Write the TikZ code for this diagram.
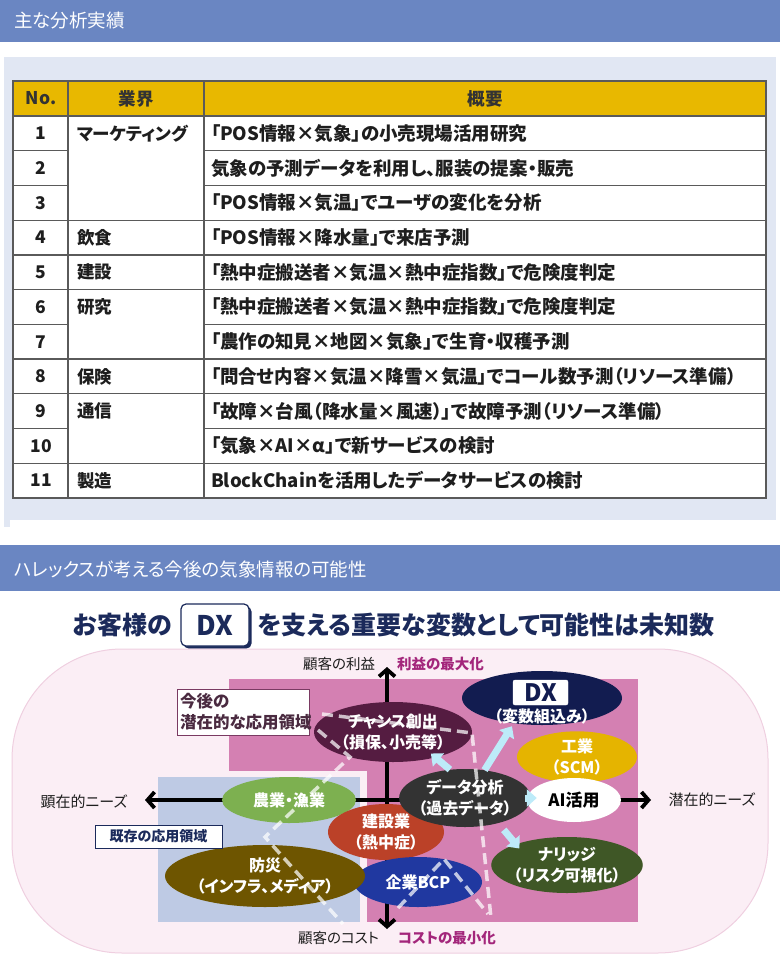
\documentclass[tikz,border=0pt]{standalone}
\usepackage{fontspec}
\setmainfont{Noto Sans CJK JP}[RawFeature=+palt]
\usetikzlibrary{shapes.geometric,arrows.meta,shadows}
\definecolor{hdr}{HTML}{6A86C2}
\definecolor{panel}{HTML}{E1E7F3}
\definecolor{gold}{HTML}{E8B800}
\definecolor{tline}{HTML}{5A5A5A}
\definecolor{ttext}{HTML}{1E1E1E}
\definecolor{navy}{HTML}{1B2A5B}
\definecolor{bgpink}{HTML}{FBEEF5}
\definecolor{bdpink}{HTML}{EFCFE0}
\definecolor{midpink}{HTML}{D480B2}
\definecolor{lblue}{HTML}{BECAE4}
\definecolor{magtxt}{HTML}{A3267B}
\definecolor{cplum}{HTML}{551C41}
\definecolor{cnavy}{HTML}{121C50}
\definecolor{cgold}{HTML}{E5B400}
\definecolor{cgray}{HTML}{333333}
\definecolor{cgreen}{HTML}{3F5726}
\definecolor{cblue}{HTML}{2038A0}
\definecolor{cred}{HTML}{BB4128}
\definecolor{clgreen}{HTML}{7DB050}
\definecolor{cbrown}{HTML}{6E5500}
\definecolor{cyanarr}{HTML}{BDEBF9}
\definecolor{plumbd}{HTML}{7A3A62}
\definecolor{plumtxt}{HTML}{4A2A40}
\newcommand{\fsz}[2]{\fontsize{#1}{#2}\selectfont}
\tikzset{
  txt/.style={inner sep=0pt, outer sep=0pt},
  hdrtxt/.style={txt, anchor=west, text=white, font=\fsz{18.5}{22}},
  num/.style={txt, text=ttext, font=\bfseries\fsz{17.5}{20}},
  indtxt/.style={txt, anchor=west, text=ttext, font=\bfseries\fsz{17.5}{20}},
  sumtxt/.style={txt, anchor=west, text=ttext, font=\bfseries\fsz{18.5}{22}},
  tl/.style={draw=tline, line width=1.2pt},
  ell/.style={ellipse, inner sep=0pt, text=white, font=\bfseries\fsz{16}{21}, align=center},
  axislbl/.style={txt, text=ttext, font=\fsz{14.5}{18}},
  maglbl/.style={txt, text=magtxt, font=\bfseries\fsz{14.5}{18}},
  dline/.style={draw=white, draw opacity=0.72, line width=3.5pt, dash pattern=on 11pt off 6pt},
  carr/.style={draw=cyanarr, line width=7pt, -{Triangle[length=10pt,width=17pt]}},
  axarr/.style={draw=black, line width=3.8pt, {Straight Barb[length=7pt,width=16pt]}-{Straight Barb[length=7pt,width=16pt]}}
}
\begin{document}
\begin{tikzpicture}[x=1pt,y=-1pt]
\useasboundingbox (0,0) rectangle (780,957);
% ---------- section 1 ----------
\fill[hdr] (0,0) rectangle (780,42);
\node[hdrtxt] (h1) at (14,21) {主な分析実績};
\fill[panel] (4,57) rectangle (776,520);
\fill[panel] (4,520) rectangle (10,527);
% table
\fill[white] (13,116) rectangle (766,498);
\fill[gold] (13,81) rectangle (766,116);
\draw[tl] (13,116) -- (766,116);
\draw[tl] (68,81) -- (68,498);
\draw[tl] (204,81) -- (204,498);
\foreach \i in {1,...,10}{
  \draw[tl] (13,{116+\i*34.727}) -- (68,{116+\i*34.727});
  \draw[tl] (204,{116+\i*34.727}) -- (766,{116+\i*34.727});
}
\foreach \i in {3,4,5,7,8,10}{
  \draw[tl] (68,{116+\i*34.727}) -- (204,{116+\i*34.727});
}
\draw[draw=tline, line width=1.6pt] (13,81) rectangle (766,498);
\node[num, text=cgray] (hno) at (41,98.5) {No.};
\node[num, text=cgray] (hind) at (136,98.5) {業界};
\node[num, text=cgray] (hsum) at (485,98.5) {概要};
\foreach \i/\t in {
  1/{「POS情報×気象」の小売現場活用研究},
  2/{気象の予測データを利用し、服装の提案・販売},
  3/{「POS情報×気温」でユーザの変化を分析},
  4/{「POS情報×降水量」で来店予測},
  5/{「熱中症搬送者×気温×熱中症指数」で危険度判定},
  6/{「熱中症搬送者×気温×熱中症指数」で危険度判定},
  7/{「農作の知見×地図×気象」で生育・収穫予測},
  8/{「問合せ内容×気温×降雪×気温」でコール数予測（リソース準備）},
  9/{「故障×台風（降水量×風速）」で故障予測（リソース準備）},
  10/{「気象×AI×α」で新サービスの検討},
  11/{BlockChainを活用したデータサービスの検討}}{
  \node[num] (n\i) at (41,{116+(\i-0.5)*34.727}) {\i};
  \node[sumtxt] (s\i) at (211,{116+(\i-0.5)*34.727}) {\t};
}
\foreach \i/\t in {1/マーケティング,4/飲食,5/建設,6/研究,8/保険,9/通信,11/製造}{
  \node[indtxt] (ind\i) at (77,{116+(\i-0.5)*34.727}) {\t};
}
% ---------- section 2 ----------
\fill[hdr] (0,545) rectangle (780,591);
\node[hdrtxt] (h2) at (14,569) {ハレックスが考える今後の気象情報の可能性};
\node[txt, anchor=east, text=navy, font=\bfseries\fsz{25}{28}] (t1) at (172,625) {お客様の};
\node[draw=navy, line width=1.2pt, fill=white, rounded corners=5pt, minimum width=68pt, minimum height=42pt, inner sep=0pt, text=navy, font=\bfseries\fsz{27}{30},
  drop shadow={shadow xshift=2.5pt, shadow yshift=-2.5pt, fill=navy, opacity=1}] (tdx) at (215,625) {DX};
\node[txt, anchor=west, text=navy, font=\bfseries\fsz{25}{28}] (t2) at (258,625) {を支える重要な変数として可能性は未知数};
% big rounded area
\filldraw[fill=bgpink, draw=bdpink, line width=1pt, rounded corners=110pt] (12,649) rectangle (768,953);
\fill[midpink] (229,679) rectangle (638,922);
\fill[bgpink] (229,771) rectangle (367,922);
\fill[lblue] (158,777) rectangle (360,922);
% axes
\coordinate (axT) at (387,667);
\coordinate (axB) at (387,929);
\coordinate (axL) at (145,800);
\coordinate (axR) at (651,800);
\draw[axarr] (axB) -- (axT);
\draw[axarr] (axL) -- (axR);
\node[axislbl, anchor=east] (lbtop) at (375,664) {顧客の利益};
\node[maglbl, anchor=west] (mgtop) at (397,664) {利益の最大化};
\node[axislbl, anchor=east] (lbbot) at (379,938) {顧客のコスト};
\node[maglbl, anchor=west] (mgbot) at (398,938) {コストの最小化};
\node[axislbl, font=\fsz{15}{18}] (lbleft) at (84,802) {顕在的ニーズ};
\node[axislbl, font=\fsz{15}{18}] (lbright) at (712,800) {潜在的ニーズ};
% ellipses
\node[ell, fill=clgreen, minimum width=134pt, minimum height=46pt] (agri) at (289,800) {農業・漁業};
\node[ell, fill=cred, minimum width=116pt, minimum height=56pt] (const) at (386,832) {建設業\\（熱中症）};
\node[ell, fill=cblue, minimum width=128pt, minimum height=50pt] (bcp) at (418,882) {企業BCP};
\node[ell, fill=cbrown, minimum width=200pt, minimum height=62pt] (disaster) at (265,876) {防災\\（インフラ、メディア）};
\node[ell, fill=cplum, minimum width=158pt, minimum height=60pt] (chance) at (393,732) {チャンス創出\\（損保、小売等）};
\node[ell, fill=cnavy, minimum width=160pt, minimum height=54pt] (dx) at (542,698) {};
\node[draw=white, fill=white, rounded corners=2pt, minimum width=55pt, minimum height=25pt, inner sep=0pt, text=cnavy, font=\bfseries\fsz{24}{26}] (dxbox) at (540.5,692.5) {DX};
\node[txt, text=white, font=\bfseries\fsz{16}{18}] (dxsub) at (542,716) {（変数組込み）};
\node[ell, fill=cgold, minimum width=120pt, minimum height=42pt] (ind) at (577,757) {工業\\（SCM）};
\node[ell, fill=white, text=black, font=\bfseries\fsz{17}{20}, minimum width=94pt, minimum height=44pt] (ai) at (574,800) {AI活用};
\node[ell, fill=cgray, minimum width=118pt, minimum height=58pt] (data) at (465,798) {データ分析\\（過去データ）};
\node[ell, fill=cgreen, minimum width=134pt, minimum height=56pt] (know) at (567,865) {ナリッジ\\（リスク可視化）};
% label boxes
\node[draw=plumbd, fill=white, line width=1pt, minimum width=132pt, minimum height=46pt, inner sep=0pt, text width=126pt, align=left, text=plumtxt, font=\bfseries\fsz{16.5}{21}] (futlbl) at (243,712) {今後の\\潜在的な応用領域};
\node[draw=navy, fill=white, line width=1pt, minimum width=127pt, minimum height=23pt, inner sep=0pt, text=navy, font=\bfseries\fsz{14}{16}] (exlbl) at (158.5,836.5) {既存の応用領域};
% dashed boundaries
\draw[dline] (322,714) -- (472,733) -- (491,918);
\draw[dline] (318,730) -- (350,757) -- (265,837) -- (343,924);
\draw[dline] (398,908) -- (444,859) -- (488,914);
% cyan arrows
\draw[carr] (data.118) -- ([yshift=5pt]chance.-35);
\draw[carr] (data.55) -- ([yshift=-3pt]dx.-140);
\draw[carr] ([xshift=-6pt]data.east) -- ([xshift=10pt]data.east -| ai.west);
\draw[carr] ([xshift=8pt,yshift=-6pt]data.-40) -- ([xshift=14pt]know.165);
\end{tikzpicture}
\end{document}
